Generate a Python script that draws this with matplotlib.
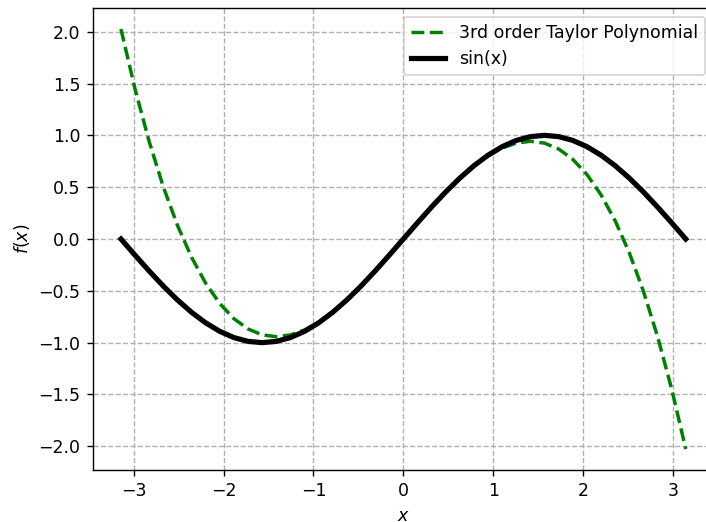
import numpy as np
import matplotlib
matplotlib.use("Agg")
import matplotlib.pyplot as plt

# sample points (x from -pi to pi)
x_vals = [-3.1416, -2.9845, -2.8274, -2.6704, -2.5133, -2.3562, -2.1991, -2.0420,
          -1.8850, -1.7279, -1.5708, -1.4137, -1.2566, -1.0996, -0.9425, -0.7854,
          -0.6283, -0.4712, -0.3142, -0.1571, 0.0,
          0.1571, 0.3142, 0.4712, 0.6283, 0.7854, 0.9425, 1.0996, 1.2566,
          1.4137, 1.5708, 1.7279, 1.8850, 2.0420, 2.1991, 2.3562, 2.5133,
          2.6704, 2.8274, 2.9845, 3.1416]

sin_vals = [0.0, -0.1564, -0.3090, -0.4540, -0.5878, -0.7071, -0.8090, -0.8910,
            -0.9511, -0.9877, -1.0, -0.9877, -0.9511, -0.8910, -0.8090, -0.7071,
            -0.5878, -0.4540, -0.3090, -0.1564, 0.0,
            0.1564, 0.3090, 0.4540, 0.5878, 0.7071, 0.8090, 0.8910, 0.9511,
            0.9877, 1.0, 0.9877, 0.9511, 0.8910, 0.8090, 0.7071, 0.5878,
            0.4540, 0.3090, 0.1564, 0.0]

taylor_vals = [2.0261, 1.4461, 0.9397, 0.5034, 0.1327, -0.1760, -0.4266, -0.6229,
               -0.7687, -0.8681, -0.9248, -0.9428, -0.9259, -0.8780, -0.8030, -0.7046,
               -0.5870, -0.4538, -0.3090, -0.1564, 0.0,
               0.1564, 0.3090, 0.4538, 0.5870, 0.7046, 0.8030, 0.8780, 0.9259,
               0.9428, 0.9248, 0.8681, 0.7687, 0.6229, 0.4266, 0.1760, -0.1327,
               -0.5034, -0.9397, -1.4461, -2.0261]

dpi = 125
fig = plt.figure(figsize=(706 / dpi, 522 / dpi), dpi=dpi)
# axes runs a bit past the right edge, as in the original (cropped) image
ax = fig.add_axes([92.7 / 706, 52 / 522, 621.3 / 706, 462 / 522])

ax.plot(x_vals, taylor_vals, '--', color='green', lw=2, label='3rd order Taylor Polynomial')
ax.plot(x_vals, sin_vals, '-', color='black', lw=3, label='sin(x)')

ax.grid(True, linestyle='--')
ax.set_xlabel('$x$')
ax.set_ylabel('$f(x)$')
ax.legend(loc='upper right')

fig.savefig('out.png', dpi=dpi)
